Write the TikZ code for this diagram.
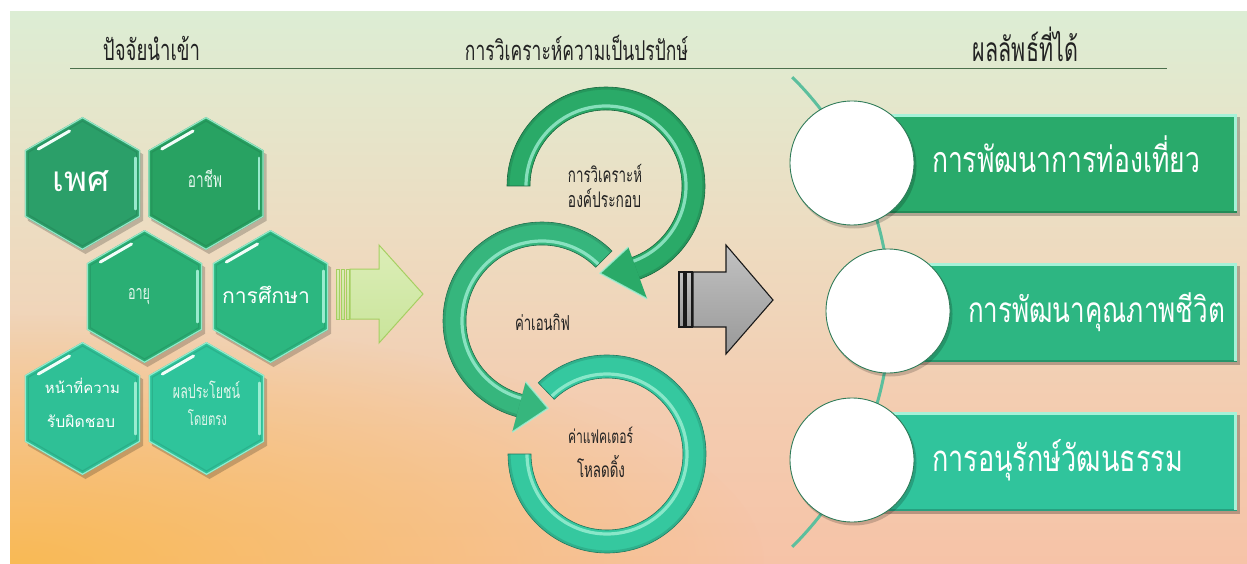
\documentclass[tikz,border=0pt]{standalone}
\usepackage{graphicx}
\usepackage{fontspec}
\newfontfamily\thai[Script=Thai]{Loma}
\usetikzlibrary{calc,fadings}
\definecolor{bgA}{HTML}{DCEDD4}
\definecolor{bgA2}{HTML}{E4E7CC}
\definecolor{bgB}{HTML}{EDDCC1}
\definecolor{bgC}{HTML}{F3CDB1}
\definecolor{bgD}{HTML}{F6C3A7}
\definecolor{glowc}{HTML}{F9BA55}
\definecolor{hx1}{HTML}{2B9F69}
\definecolor{hx2}{HTML}{28A262}
\definecolor{hx3}{HTML}{2AAF74}
\definecolor{hx4}{HTML}{2CB780}
\definecolor{hx5}{HTML}{2FC096}
\definecolor{hx6}{HTML}{2FC49B}
\definecolor{mint}{HTML}{A6F2D8}
\definecolor{rg1}{HTML}{2AAA68}
\definecolor{rg2}{HTML}{36B67D}
\definecolor{rg3}{HTML}{35C89F}
\definecolor{bx1}{HTML}{29AA6B}
\definecolor{bx2}{HTML}{2DB682}
\definecolor{bx3}{HTML}{30C49C}
\definecolor{dkg}{HTML}{1B7A4E}
\definecolor{teal}{HTML}{5CBF9D}
\definecolor{garT}{HTML}{DCEEB8}
\definecolor{garM}{HTML}{C9E49A}
\definecolor{garb}{HTML}{A6CF62}
\definecolor{txtd}{HTML}{222222}
\definecolor{htlc}{HTML}{E2F6EC}
\pgfdeclareverticalshading{bgsh}{100bp}{color(0bp)=(bgD); color(25bp)=(bgD); color(40bp)=(bgC); color(55bp)=(bgB); color(67bp)=(bgA2); color(75bp)=(bgA); color(100bp)=(bgA)}
\tikzfading[name=glowfade, inner color=transparent!0, outer color=transparent!100]
\newcommand\cond[2]{\resizebox{#1pt}{!}{\scalebox{0.64}[1]{\thai #2}}}
\newcommand\condb[2]{\resizebox{#1pt}{!}{\scalebox{0.74}[1]{\thai #2}}}
\newcommand\sw[2]{\resizebox{#1pt}{!}{\thai #2}}
\newcommand\hexp[1]{(30:#1) -- (90:#1) -- (150:#1) -- (210:#1) -- (270:#1) -- (330:#1) -- cycle}
\newcommand\hexshape[2]{%
  \begin{scope}[shift={(#1)}]
    \fill[black,opacity=.2,shift={(3,4)}] \hexp{66.5};
    \fill[#2] \hexp{66.5};
    \draw[mint,line width=1.2,opacity=.85] \hexp{65.8};
    \draw[#2!70!black,line width=1.2,opacity=.3] \hexp{62.5};
    \draw[white!85!mint,line width=3,line cap=round] ($(210:60)!0.15!(270:60)$) -- ($(210:60)!0.75!(270:60)$);
    \draw[mint,line width=2.6,line cap=round,opacity=.9] ($(330:61)!0.08!(30:61)$) -- ($(330:61)!0.92!(30:61)$);
  \end{scope}}
\newcommand\ringbody[4]{%
  \fill[black,opacity=.16,shift={(3,4)}] ($(#1)+(#2:99)$) arc[start angle=#2, end angle=#3, radius=99] -- ($(#1)+(#3:76)$) arc[start angle=#3, end angle=#2, radius=76] -- cycle;
  \fill[#4] ($(#1)+(#2:99)$) arc[start angle=#2, end angle=#3, radius=99] -- ($(#1)+(#3:76)$) arc[start angle=#3, end angle=#2, radius=76] -- cycle;
  \draw[#4!75!black,line width=2.2,opacity=.45] ($(#1)+(#2:97.5)$) arc[start angle=#2, end angle=#3, radius=97.5];
  \draw[mint,line width=3.2,opacity=.75] ($(#1)+(#2:80)$) arc[start angle=#2, end angle=#3, radius=80];
  \draw[#4!60!black,line width=.6] ($(#1)+(#2:99)$) arc[start angle=#2, end angle=#3, radius=99] -- ($(#1)+(#3:76)$) arc[start angle=#3, end angle=#2, radius=76] -- cycle;
}
\newcommand\ringhead[6]{% center, base angle, tip angle, r in, r out, color
  \fill[black,opacity=.16,shift={(3,4)}] ($(#1)+(#2:#4)$) -- ($(#1)+(#3:87.5)$) -- ($(#1)+(#2:#5)$) -- cycle;
  \fill[#6] ($(#1)+(#2:#4)$) -- ($(#1)+(#3:87.5)$) -- ($(#1)+(#2:#5)$) -- cycle;
  \draw[mint,line width=1.6,opacity=.8,line join=round] ($(#1)+(#2:#4)$) -- ($(#1)+(#3:87.5)$) -- ($(#1)+(#2:#5)$);
}
\begin{document}
\begin{tikzpicture}[x=1pt,y=-1pt,
  tx/.style={inner sep=0pt,outer sep=0pt},
  head/.style={tx,text=txtd},
  hwt/.style={tx,text=white},
  hlt/.style={tx,text=htlc},
  rtx/.style={tx,text=txtd},
  hline/.style={draw=black!65!green!40!gray,line width=.9},
  garrow/.style={top color=garT,bottom color=garM,draw=garb,line width=1},
  gyarrow/.style={top color=black!24,bottom color=black!40,draw=black!90,line width=1.1},
  circw/.style={fill=white,draw=dkg!80!gray,line width=.9},
  tline/.style={draw=teal,line width=3}]
\useasboundingbox (0,0) rectangle (1247,564);
\fill[white] (0,0) rectangle (1247,564);
\shade[shading=bgsh] (10,12) rectangle (1247,564);
\begin{scope}
  \clip (10,12) rectangle (1247,564);
  \fill[glowc,path fading=glowfade] (10,564) ellipse [x radius=760, y radius=250];
\end{scope}
% headings
\draw[hline] (70,68) -- (1167,68);
\node[head,anchor=base] (hd1) at (151.5,61) {\cond{97}{ปัจจัยนำเข้า}};
\node[head,anchor=base] (hd2) at (576.5,61) {\cond{223}{การวิเคราะห์ความเป็นปรปักษ์}};
\node[head,anchor=base] (hd3) at (1025.5,62) {\cond{105}{ผลลัพธ์ที่ได้}};
% hexagons
\coordinate (x1) at (82.5,183.5);
\coordinate (x2) at (206,183.5);
\coordinate (x3) at (144.5,296.5);
\coordinate (x4) at (270.5,296.5);
\coordinate (x5) at (82.5,408.5);
\coordinate (x6) at (206.5,408.5);
\hexshape{x1}{hx1}
\hexshape{x2}{hx2}
\hexshape{x3}{hx3}
\hexshape{x4}{hx4}
\hexshape{x5}{hx5}
\hexshape{x6}{hx6}
\node[hwt,anchor=base] (t1) at (81.5,192) {\sw{57}{เพศ}};
\node[hlt,anchor=base] (t2) at (205,188) {\cond{34}{อาชีพ}};
\node[hlt,anchor=base] (t3) at (139,299) {\cond{22}{อายุ}};
\node[hwt,anchor=base] (t4) at (266,303) {\sw{88}{การศึกษา}};
\node[hwt,anchor=base] (t5a) at (82.5,393) {\sw{75}{หน้าที่ความ}};
\node[hwt,anchor=base] (t5b) at (81,427) {\sw{68}{รับผิดชอบ}};
\node[hlt,anchor=base] (t6a) at (206.5,398) {\cond{67}{ผลประโยชน์}};
\node[hlt,anchor=base] (t6b) at (207.5,425) {\cond{39}{โดยตรง}};
% green arrow
\path[garrow] (350,269) -- (379,269) -- (379,245) -- (423,294) -- (379,343) -- (379,319) -- (350,319) -- cycle;
\path[garrow] (336,269) rectangle (339.5,319);
\path[garrow] (341,269) rectangle (344.5,319);
\path[garrow] (346,269) rectangle (349.5,319);
% rings
\coordinate (r1) at (606,186);
\coordinate (r2) at (542,321);
\coordinate (r3) at (607,454);
\ringbody{r3}{226}{540}{rg3}
\ringbody{r2}{315}{103}{rg2}
\ringhead{r2}{105}{86}{63}{115}{rg2}
\ringbody{r1}{180}{432}{rg1}
\ringhead{r1}{70}{94}{65}{120}{rg1}
\node[rtx,anchor=base] (q1a) at (605,183) {\cond{74}{การวิเคราะห์}};
\node[rtx,anchor=base] (q1b) at (604.5,208) {\cond{73}{องค์ประกอบ}};
\node[rtx,anchor=base] (q2) at (542.5,330) {\cond{55}{ค่าเอนกิฟ}};
\node[rtx,anchor=base] (q3a) at (600.5,443) {\cond{65}{ค่าแฟคเตอร์}};
\node[rtx,anchor=base] (q3b) at (601,477) {\cond{48}{โหลดดิ้ง}};
% gray arrow
\path[gyarrow] (693,272) -- (726,272) -- (726,245) -- (773,300) -- (726,354) -- (726,327) -- (693,327) -- cycle;
\path[gyarrow] (679,272) rectangle (684,327);
\path[gyarrow] (686,272) rectangle (692,327);
% results
\coordinate (ac) at (559,312);
\draw[tline] ($(ac)+(-45.2:331)$) arc[start angle=-45.2, end angle=45.2, radius=331];
\coordinate (c1) at (852,163);
\coordinate (c2) at (888,311);
\coordinate (c3) at (852,460);
\foreach \c/\t/\b/\col in {c1/114/213/bx1, c2/263/362/bx2, c3/412/511/bx3}{
  \fill[black,opacity=.25] ($(\c |- 0,\t)+(3,3)$) rectangle (1240,\b+3);
  \fill[\col] (\c |- 0,\t) rectangle (1237,\b);
  \draw[\col!70!black,line width=1.6,opacity=.6] ($(\c |- 0,\b)+(0,-1)$) -- (1237,\b-1);
  \draw[mint,line width=2.6] ($(\c |- 0,\t)+(0,1.6)$) -- (1235.4,\t+1.6) -- (1235.4,\b-1.5);
}
\foreach \c in {c1,c2,c3}{
  \fill[black,opacity=.18] ($(\c)+(2,3)$) circle[radius=62.5];
  \path[circw] (\c) circle[radius=62];
}
\node[hwt,anchor=base west] (b1) at (932,173) {\condb{268}{การพัฒนาการท่องเที่ยว}};
\node[hwt,anchor=base west] (b2) at (968,322) {\condb{257}{การพัฒนาคุณภาพชีวิต}};
\node[hwt,anchor=base west] (b3) at (932,471) {\condb{251}{การอนุรักษ์วัฒนธรรม}};
\end{tikzpicture}
\end{document}
